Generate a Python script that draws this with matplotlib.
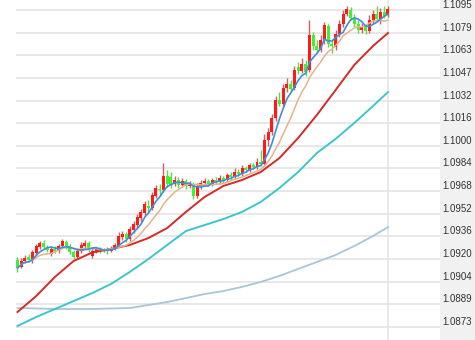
import numpy as np
import pandas as pd
import matplotlib
matplotlib.use('Agg')
from matplotlib import pyplot as plt
from matplotlib.patches import Rectangle
from matplotlib.transforms import blended_transform_factory


# 蜡烛数据 (开 / 收 / 高 / 低)
opens = [1.09197, 1.09148, 1.09190, 1.09218, 1.09204, 1.09246, 1.09288, 1.09316, 1.09288, 1.09239,
         1.09274, 1.09260, 1.09295, 1.09323, 1.09295, 1.09253, 1.09218, 1.09260, 1.09295, 1.09316,
         1.09225, 1.09260, 1.09274, 1.09260, 1.09274, 1.09260, 1.09281, 1.09295, 1.09358, 1.09379,
         1.09344, 1.09407, 1.09442, 1.09491, 1.09527, 1.09576, 1.09562, 1.09646, 1.09695, 1.09688,
         1.09786, 1.09779, 1.09730, 1.09758, 1.09723, 1.09751, 1.09716, 1.09730, 1.09646, 1.09716,
         1.09737, 1.09751, 1.09730, 1.09758, 1.09744, 1.09772, 1.09758, 1.09793, 1.09779, 1.09814,
         1.09800, 1.09842, 1.09828, 1.09863, 1.09849, 1.09884, 1.09870, 1.10039, 1.10095, 1.10193,
         1.10319, 1.10291, 1.10403, 1.10431, 1.10403, 1.10551, 1.10522, 1.10572, 1.10529, 1.10775,
         1.10698, 1.10670, 1.10740, 1.10838, 1.10712, 1.10691, 1.10782, 1.10852, 1.10922, 1.10950,
         1.10894, 1.10852, 1.10810, 1.10831, 1.10803, 1.10880, 1.10922, 1.10887, 1.10936, 1.10915]
closes = [1.09141, 1.09190, 1.09211, 1.09197, 1.09253, 1.09295, 1.09316, 1.09288, 1.09267, 1.09274,
          1.09260, 1.09295, 1.09330, 1.09288, 1.09253, 1.09218, 1.09260, 1.09302, 1.09316, 1.09267,
          1.09260, 1.09274, 1.09260, 1.09274, 1.09260, 1.09281, 1.09302, 1.09365, 1.09379, 1.09344,
          1.09414, 1.09449, 1.09498, 1.09534, 1.09590, 1.09562, 1.09653, 1.09702, 1.09688, 1.09786,
          1.09730, 1.09723, 1.09758, 1.09723, 1.09751, 1.09716, 1.09730, 1.09646, 1.09716, 1.09737,
          1.09751, 1.09730, 1.09758, 1.09744, 1.09772, 1.09758, 1.09793, 1.09779, 1.09814, 1.09800,
          1.09842, 1.09828, 1.09863, 1.09849, 1.09884, 1.09870, 1.10039, 1.10095, 1.10193, 1.10319,
          1.10291, 1.10403, 1.10431, 1.10396, 1.10529, 1.10522, 1.10572, 1.10515, 1.10775, 1.10698,
          1.10670, 1.10740, 1.10845, 1.10712, 1.10698, 1.10782, 1.10852, 1.10922, 1.10957, 1.10894,
          1.10852, 1.10810, 1.10831, 1.10803, 1.10880, 1.10922, 1.10887, 1.10936, 1.10908, 1.10957]
highs = [1.09218, 1.09211, 1.09232, 1.09239, 1.09267, 1.09309, 1.09330, 1.09337, 1.09302, 1.09288,
         1.09295, 1.09309, 1.09344, 1.09337, 1.09309, 1.09267, 1.09274, 1.09323, 1.09337, 1.09330,
         1.09281, 1.09288, 1.09288, 1.09281, 1.09288, 1.09295, 1.09316, 1.09393, 1.09400, 1.09393,
         1.09435, 1.09470, 1.09520, 1.09555, 1.09611, 1.09618, 1.09674, 1.09723, 1.09730, 1.09877,
         1.09828, 1.09814, 1.09786, 1.09779, 1.09772, 1.09765, 1.09751, 1.09744, 1.09737, 1.09758,
         1.09772, 1.09765, 1.09772, 1.09779, 1.09793, 1.09786, 1.09807, 1.09814, 1.09842, 1.09835,
         1.09863, 1.09856, 1.09877, 1.09877, 1.09912, 1.09968, 1.10081, 1.10123, 1.10221, 1.10347,
         1.10375, 1.10431, 1.10473, 1.10459, 1.10558, 1.10586, 1.10614, 1.10600, 1.10880, 1.10796,
         1.10740, 1.10775, 1.10866, 1.10852, 1.10740, 1.10810, 1.10880, 1.10950, 1.10978, 1.10971,
         1.10922, 1.10880, 1.10859, 1.10852, 1.10915, 1.10950, 1.10978, 1.10964, 1.10978, 1.10978]
lows = [1.09113, 1.09141, 1.09176, 1.09183, 1.09176, 1.09232, 1.09274, 1.09274, 1.09253, 1.09225,
        1.09246, 1.09246, 1.09281, 1.09274, 1.09239, 1.09204, 1.09204, 1.09246, 1.09274, 1.09253,
        1.09211, 1.09246, 1.09246, 1.09253, 1.09239, 1.09253, 1.09267, 1.09288, 1.09337, 1.09323,
        1.09330, 1.09386, 1.09421, 1.09463, 1.09505, 1.09534, 1.09548, 1.09632, 1.09646, 1.09674,
        1.09709, 1.09702, 1.09716, 1.09702, 1.09709, 1.09695, 1.09702, 1.09625, 1.09632, 1.09695,
        1.09716, 1.09716, 1.09716, 1.09730, 1.09730, 1.09737, 1.09744, 1.09758, 1.09765, 1.09786,
        1.09786, 1.09814, 1.09814, 1.09835, 1.09835, 1.09856, 1.09856, 1.09996, 1.10074, 1.10172,
        1.10277, 1.10277, 1.10375, 1.10375, 1.10389, 1.10501, 1.10508, 1.10487, 1.10515, 1.10670,
        1.10649, 1.10656, 1.10712, 1.10691, 1.10649, 1.10670, 1.10761, 1.10831, 1.10908, 1.10880,
        1.10831, 1.10789, 1.10789, 1.10782, 1.10789, 1.10852, 1.10866, 1.10852, 1.10894, 1.10901]

# 长周期均线, 每5根读一个值
ma_idx = [0, 5, 10, 15, 20, 25, 30, 35, 40, 45, 50, 55, 60, 65, 70, 75, 80, 85, 90, 95, 99]
ma_red = [1.08832, 1.08944, 1.09078, 1.09190, 1.09250, 1.09274, 1.09302, 1.09351, 1.09421, 1.09534,
          1.09639, 1.09716, 1.09758, 1.09814, 1.09912, 1.10053, 1.10214, 1.10389, 1.10565, 1.10698,
          1.10789]
ma_cyan = [1.08734, 1.08797, 1.08853, 1.08909, 1.08965, 1.09029, 1.09113, 1.09204, 1.09302, 1.09400,
           1.09442, 1.09484, 1.09534, 1.09604, 1.09702, 1.09814, 1.09947, 1.10046, 1.10158, 1.10277,
           1.10375]
ma_gray = [1.08860, 1.08857, 1.08853, 1.08853, 1.08853, 1.08857, 1.08860, 1.08881, 1.08902, 1.08930,
           1.08958, 1.08979, 1.09008, 1.09043, 1.09085, 1.09134, 1.09183, 1.09232, 1.09295, 1.09365,
           1.09428]

tick_vals = [1.087272, 1.088860, 1.090448, 1.092036, 1.093624, 1.095212, 1.096800,
             1.098388, 1.099976, 1.101564, 1.103152, 1.104740, 1.106328, 1.107916, 1.109504]
tick_labels = ['1.0873', '1.0889', '1.0904', '1.0920', '1.0936', '1.0952', '1.0968',
               '1.0984', '1.1000', '1.1016', '1.1032', '1.1047', '1.1063', '1.1079', '1.1095']

o = np.array(opens)
c = np.array(closes)
h = np.array(highs)
l = np.array(lows)
x = np.arange(len(c))

ma5 = pd.Series(c).rolling(5, min_periods=1).mean()
ma10 = pd.Series(c).rolling(10, min_periods=1).mean()

fig = plt.figure(figsize=(4.75, 3.4), dpi=100)
fig.add_artist(Rectangle((440 / 475, 0), 35 / 475, 1, transform=fig.transFigure,
                         facecolor='#f1f1f1', edgecolor='none', zorder=0))
ax = fig.add_axes([16 / 475, 0, 424 / 475, 1])
ax.set_xlim(-0.4, 112.9)
ax.set_ylim(1.086357, 1.110205)
for s in ax.spines.values():
    s.set_visible(False)
ax.set_xticks([])
ax.set_yticks([])

# 网格线 (最底下一条在标签之外)
for v in tick_vals + [1.085684]:
    ax.axhline(v, color='#e6e6e6', lw=1.3, zorder=0)
ax.axvline(x[-1], color='#e6e6e6', lw=1.2, zorder=0)

up = c >= o
body_col = np.where(up, '#ff1a1a', '#44ee33')
wick_col = np.where(up, '#e05a5a', '#55dd44')
ax.vlines(x, l, h, colors=wick_col, lw=1, zorder=2)
ax.bar(x, np.maximum(np.abs(c - o), 0.00004), bottom=np.minimum(o, c), width=0.8,
       color=body_col, zorder=2)

ax.plot(ma_idx, ma_gray, color='#a9c6d9', lw=1.3, zorder=3)
ax.plot(ma_idx, ma_cyan, color='#3cc6cc', lw=1.4, zorder=3)
ax.plot(ma_idx, ma_red, color='#d42a2a', lw=1.4, zorder=3)
ax.plot(x, ma10, color='#e3b48c', lw=1.1, zorder=3)
ax.plot(x, ma5, color='#3d8fdc', lw=1.2, zorder=3)

tr = blended_transform_factory(fig.transFigure, ax.transData)
for v, t in zip(tick_vals, tick_labels):
    ax.text(442 / 475, v, t, transform=tr, ha='left', va='bottom', fontsize=7,
            family='Liberation Sans', color='#333333', clip_on=False)

fig.savefig('out.png', dpi=100)
